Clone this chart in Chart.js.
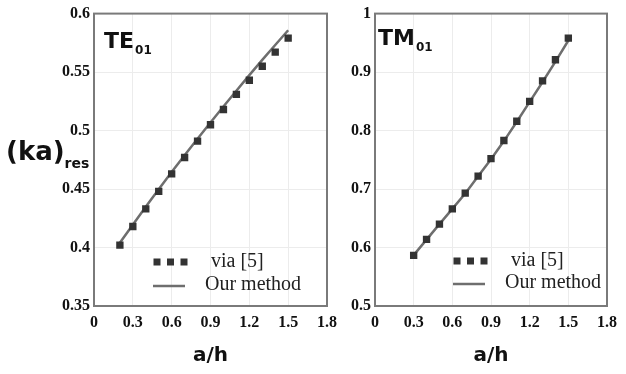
<!DOCTYPE html>
<html>
<head>
<meta charset="utf-8">
<script src="https://cdn.jsdelivr.net/npm/chart.js@4.4.1/dist/chart.umd.min.js"></script>
<style>
  html, body { margin: 0; padding: 0; background: #fff; }
  #wrap { position: relative; width: 626px; height: 374px; overflow: hidden; }
  canvas { position: absolute; top: 0; }
</style>
</head>
<body>
<div id="wrap">
  <canvas id="te" width="345" height="374" style="left:0px"></canvas>
  <canvas id="tm" width="281" height="374" style="left:345px"></canvas>
</div>
<script>
// ---- data ----
const teX    = [0.2, 0.3, 0.4, 0.5, 0.6, 0.7, 0.8, 0.9, 1.0, 1.1, 1.2, 1.3, 1.4, 1.5];
const teRef  = [0.402, 0.418, 0.433, 0.448, 0.463, 0.477, 0.491, 0.505, 0.518, 0.531, 0.543, 0.555, 0.567, 0.579];
const teOurs = [0.404, 0.4195, 0.4348, 0.4498, 0.4645, 0.4789, 0.4930, 0.5069, 0.5206, 0.5341, 0.5474, 0.5604, 0.5732, 0.5858];

const tmX    = [0.3, 0.4, 0.5, 0.6, 0.7, 0.8, 0.9, 1.0, 1.1, 1.2, 1.3, 1.4, 1.5];
const tmRef  = [0.5865, 0.614, 0.640, 0.666, 0.693, 0.722, 0.752, 0.783, 0.816, 0.850, 0.885, 0.921, 0.958];
const tmOurs = [0.587, 0.6135, 0.640, 0.666, 0.6925, 0.722, 0.751, 0.782, 0.815, 0.849, 0.883, 0.918, 0.954];

const xTicks   = [0, 0.3, 0.6, 0.9, 1.2, 1.5, 1.8];
const teYTicks = [0.35, 0.4, 0.45, 0.5, 0.55, 0.6];
const tmYTicks = [0.5, 0.6, 0.7, 0.8, 0.9, 1];

const refLabel  = 'via [5]';
const oursLabel = 'Our method';
const xTitle    = 'a/h';

const pts = (xs, ys) => xs.map((x, i) => ({x: x, y: ys[i]}));

const frameAndDecor = {
  id: 'frameAndDecor',
  beforeDatasetsDraw(chart, args, opts) {
    const {ctx, chartArea: a} = chart;
    ctx.save();
    ctx.strokeStyle = '#7a7a7a';
    ctx.lineWidth = 2;
    ctx.strokeRect(a.left, a.top, a.right - a.left, a.bottom - a.top);
    ctx.restore();
  },
  afterDatasetsDraw(chart, args, opts) {
    const ctx = chart.ctx;
    ctx.save();
    // mode label with subscript
    ctx.fillStyle = '#111';
    ctx.textBaseline = 'alphabetic';
    ctx.textAlign = 'left';
    ctx.font = 'bold 22px "DejaVu Sans"';
    ctx.fillText(opts.mode, opts.modeX, opts.modeY);
    const w = ctx.measureText(opts.mode).width;
    ctx.font = 'bold 12px "DejaVu Sans"';
    ctx.fillText(opts.modeSub, opts.modeX + w + 1, opts.modeY + 6);

    // legend
    const ds0 = chart.data.datasets[0];
    const ds1 = chart.data.datasets[1];
    ctx.fillStyle = ds0.pointBackgroundColor;
    for (let i = 0; i < 3; i++) {
      const cx = opts.legX + 4 + i * 13.5;
      ctx.fillRect(cx - 3.5, opts.legY1 - 3.5, 7, 7);
    }
    ctx.strokeStyle = ds1.borderColor;
    ctx.lineWidth = ds1.borderWidth;
    ctx.beginPath();
    ctx.moveTo(opts.legX, opts.legY2);
    ctx.lineTo(opts.legX + 32, opts.legY2);
    ctx.stroke();
    ctx.fillStyle = '#222';
    ctx.font = '20px "Liberation Serif"';
    ctx.textBaseline = 'middle';
    ctx.fillText(ds0.label, opts.txt1X, opts.legY1);
    ctx.fillText(ds1.label, opts.txt2X, opts.legY2 - 1);

    // y-axis title (only left chart)
    if (opts.yTitle) {
      ctx.textBaseline = 'alphabetic';
      ctx.fillStyle = '#111';
      ctx.font = 'bold 26px "DejaVu Sans"';
      ctx.fillText('(ka)', 6, 160);
      const w2 = ctx.measureText('(ka)').width;
      ctx.font = 'bold 14px "DejaVu Sans"';
      ctx.fillText('res', 6 + w2, 168);
    }
    ctx.restore();
  }
};

function makeChart(id, xs, ref, ours, yMin, yMax, yStep, yTicks, yWidth, padRight, decor) {
  return new Chart(document.getElementById(id), {
    type: 'scatter',
    data: {
      datasets: [
        {
          label: refLabel,
          data: pts(xs, ref),
          showLine: false,
          pointStyle: 'rect',
          pointRadius: 5.2,
          pointHoverRadius: 5.2,
          pointBackgroundColor: '#333333',
          pointBorderColor: '#333333',
          pointBorderWidth: 0,
          order: 1
        },
        {
          label: oursLabel,
          data: pts(xs, ours),
          showLine: true,
          pointRadius: 0,
          borderColor: '#6e6e6e',
          borderWidth: 2.5,
          tension: 0,
          order: 2
        }
      ]
    },
    options: {
      responsive: false,
      animation: false,
      events: [],
      layout: { padding: { top: 13, right: padRight, left: 0, bottom: 0 } },
      plugins: {
        legend: { display: false },
        tooltip: { enabled: false },
        frameAndDecor: decor
      },
      scales: {
        x: {
          type: 'linear',
          min: 0, max: 1.8,
          afterBuildTicks: (s) => { s.ticks = xTicks.map(v => ({value: v})); },
          afterFit: (s) => { s.height = 68; },
          grid: { color: '#ececec', lineWidth: 1, drawTicks: false },
          border: { display: false },
          ticks: {
            padding: 7,
            color: '#111',
            font: { family: '"Liberation Serif"', weight: 'bold', size: 16 },
            maxRotation: 0,
            autoSkip: false,
            callback: (v) => String(Math.round(v * 10) / 10)
          },
          title: {
            display: true,
            text: xTitle,
            color: '#111',
            font: { family: '"DejaVu Sans"', weight: 'bold', size: 20 },
            padding: { top: 0, bottom: 6 }
          }
        },
        y: {
          type: 'linear',
          min: yMin, max: yMax,
          afterBuildTicks: (s) => { s.ticks = yTicks.map(v => ({value: v})); },
          afterFit: (s) => { s.width = yWidth; },
          grid: { color: '#ececec', lineWidth: 1, drawTicks: false },
          border: { display: false },
          ticks: {
            padding: 4,
            color: '#111',
            font: { family: '"Liberation Serif"', weight: 'bold', size: 16 },
            autoSkip: false,
            callback: (v) => String(Math.round(v * 100) / 100)
          }
        }
      }
    },
    plugins: [frameAndDecor]
  });
}

makeChart('te', teX, teRef, teOurs, 0.35, 0.6, 0.05, teYTicks, 94, 18, {
  mode: 'TE', modeSub: '01', modeX: 104, modeY: 48,
  legX: 153, legY1: 262, legY2: 286, txt1X: 211, txt2X: 205, yTitle: true
});
makeChart('tm', tmX, tmRef, tmOurs, 0.5, 1.0, 0.1, tmYTicks, 30, 19, {
  mode: 'TM', modeSub: '01', modeX: 33, modeY: 45,
  legX: 108, legY1: 261, legY2: 284, txt1X: 166, txt2X: 160, yTitle: false
});
</script>
</body>
</html>
